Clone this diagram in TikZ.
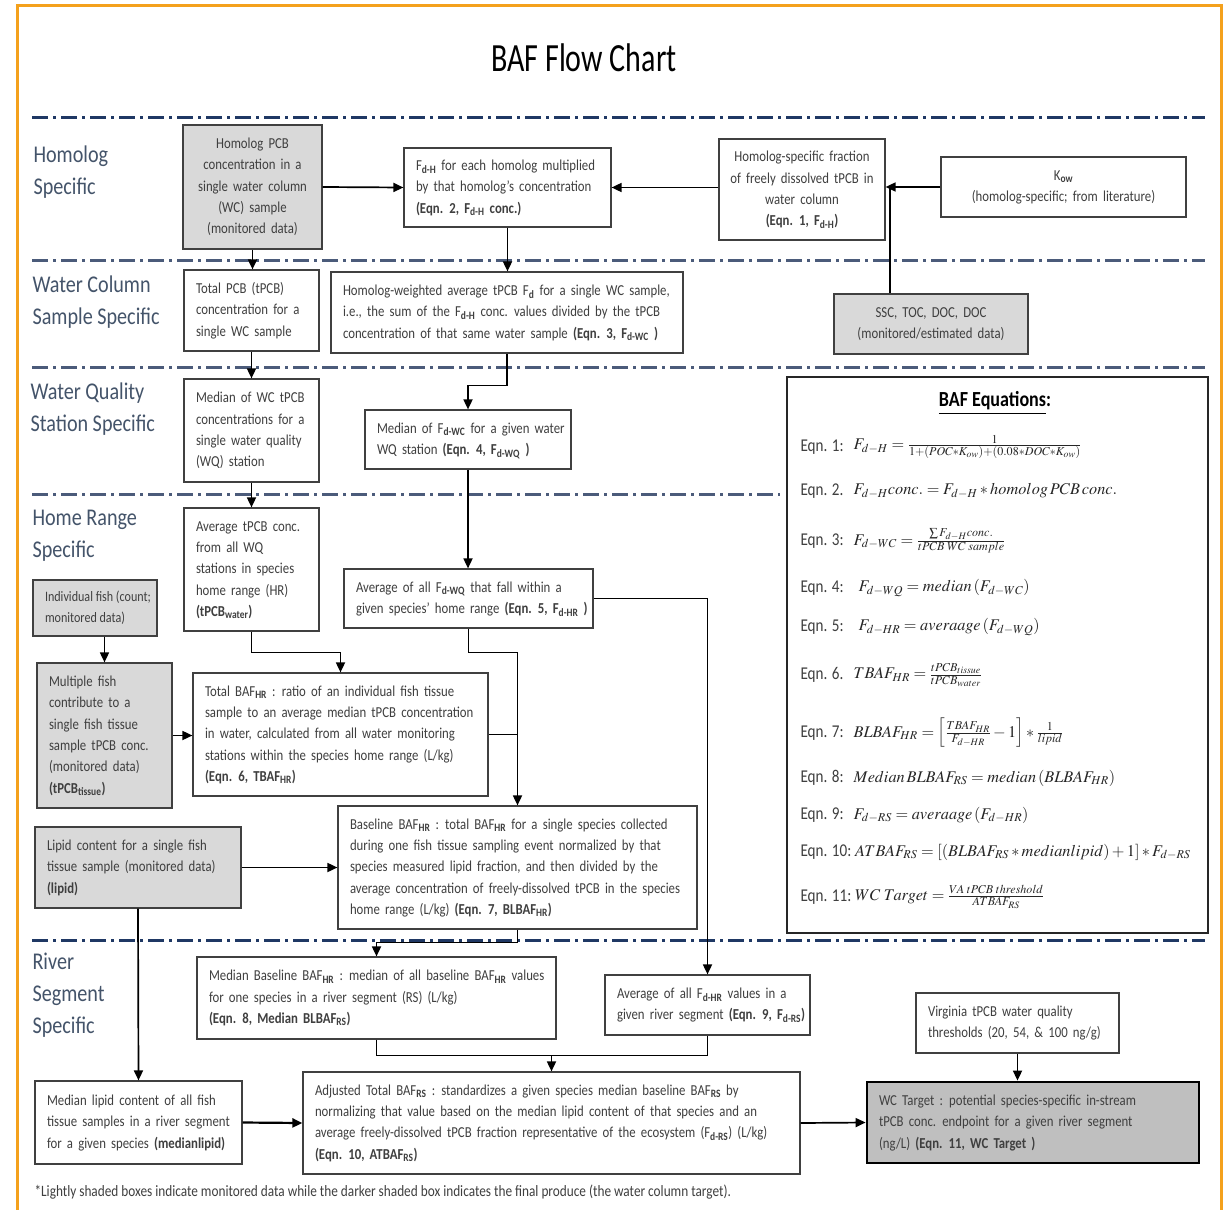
\documentclass[tikz,border=0pt]{standalone}
\usepackage{mathptmx}
\usepackage{fontspec}
\setmainfont{Carlito}[FakeStretch=0.84]
\newfontfamily\boxfam{Carlito}[FakeStretch=0.84,WordSpace=1.8]
\newfontfamily\titlefont{Carlito}[FakeStretch=0.75]
\usetikzlibrary{arrows.meta}
\definecolor{navy}{HTML}{1F3864}
\definecolor{slate}{HTML}{4B5B7A}
\definecolor{lbl}{HTML}{44546A}
\definecolor{lightg}{HTML}{D9D9D9}
\definecolor{darkg}{HTML}{BFBFBF}
\definecolor{orng}{HTML}{F4A11D}
\definecolor{txt}{HTML}{3F3F3F}
\newcommand\bxfont{\boxfam\fontsize{15.2}{21.3}\selectfont}
\newcommand\labfont{\fontsize{24}{32}\selectfont}
\newcommand\eqlfont{\fontsize{18}{20}\selectfont}
\newcommand\eqmfont{\fontsize{16.3}{19}\selectfont}
\newcommand\footfont{\fontsize{15.8}{16}\selectfont}
\newcommand\smallbx{\rmfamily\fontsize{14.4}{21.3}\selectfont}
\newcommand\sbb[1]{\textsubscript{\textbf{#1}}}
\newcommand\mybox[8]{%
  \pgfmathsetmacro\myW{#4-#2}\pgfmathsetmacro\myH{#5-#3}\pgfmathsetmacro\myT{#4-#2-24}%
  \pgfmathsetmacro\myX{(#2+#4)/2}\pgfmathsetmacro\myY{(#3+#5)/2}%
  \node[bx,#6,minimum width=\myW pt,minimum height=\myH pt] (#1) at (\myX,\myY)
    {\makebox[\myT pt][#7]{\begin{tabular}{@{}#7@{}}#8\end{tabular}}};}
\begin{document}
\begin{tikzpicture}[x=1pt,y=-1pt,
  bx/.style={draw=black!75,line width=1.2pt,fill=white,text=txt,font=\bxfont,inner xsep=12pt,inner ysep=0pt},
  lt/.style={fill=lightg},
  dk/.style={fill=darkg,draw=black,line width=2.8pt},
  sec/.style={line width=3pt,dash pattern=on 16pt off 5pt on 3pt off 5pt},
  conn/.style={line width=1.7pt,black},
  arr/.style={conn,-{Triangle[length=10pt,width=9pt]}},
  lab/.style={anchor=west,align=left,text=lbl,font=\labfont},
  eql/.style={anchor=west,font=\eqlfont,text=txt},
  eqm/.style={anchor=west,font=\eqmfont,text=black!85},
]
\useasboundingbox (0,0) rectangle (1225,1209);
\fill[white] (0,0) rectangle (1225,1209);
\draw[orng,line width=3pt] (17,6) rectangle (1221,1240);

\node (title) at (584,58) {\titlefont\fontsize{40}{40}\selectfont BAF Flow Chart};

% section separators
\draw[sec,navy] (32,118) -- (1205,118);
\draw[sec,slate] (32,260) -- (1205,260);
\draw[sec,slate] (32,367) -- (1205,367);
\draw[sec,slate] (32,494) -- (780,494);
\draw[sec,navy] (32,940) -- (1205,940);

% section labels
\node[lab] (lh) at (30,172) {Homolog\\Specific};
\node[lab] (lwc) at (29,302) {Water Column\\Sample Specific};
\node[lab] (lwq) at (27,409) {Water Quality\\Station Specific};
\node[lab] (lhr) at (29,536) {Home Range\\Specific};
\node[lab] (lrs) at (29,995) {River\\Segment\\Specific};

% boxes
\mybox{hpcb}{183}{125}{322}{249}{lt}{c}{Homolog PCB\\concentration in a\\single water column\\(WC) sample\\(monitored data)}
\mybox{fdh}{404}{148}{611}{227}{}{l}{F\sbb{d-H} for each homolog multiplied\\by that homolog’s concentration\\\textbf{(Eqn. 2,  F\sbb{d-H} conc.)}}
\mybox{hsf}{719}{139}{885}{240}{}{c}{Homolog-specific fraction\\of freely dissolved tPCB in\\water column\\\textbf{(Eqn. 1, F\sbb{d-H})}}
\mybox{kow}{941}{157}{1186}{217}{}{c}{K\sbb{ow}\\(homolog-specific; from literature)}
\mybox{ssc}{834}{294}{1028}{354}{lt}{c}{SSC, TOC, DOC, DOC\\(monitored/estimated data)}
\mybox{tpcb}{184}{270}{319}{351}{}{l}{Total PCB (tPCB)\\concentration  for a\\single WC sample}
\mybox{hw}{331}{272}{683}{353}{}{l}{Homolog-weighted  average tPCB F\sbb{d} for a single WC sample,\\i.e., the sum of the F\sbb{d-H} conc. values divided by the tPCB\\concentration of that same water sample \textbf{(Eqn. 3, F\sbb{d-WC} )}}
\mybox{medwc}{184}{379}{319}{482}{}{l}{Median of WC tPCB\\concentrations  for a\\single water quality\\(WQ) station}
\mybox{medfd}{365}{410}{571}{469}{}{l}{Median of F\sbb{d-WC} for a given water\\WQ station \textbf{(Eqn. 4, F\sbb{d-WQ} )}}
\mybox{avgt}{184}{508}{319}{631}{}{l}{Average tPCB conc.\\from all WQ\\stations in species\\home range (HR)\\\textbf{(tPCB\sbb{water})}}
\mybox{avgfd}{344}{569}{593}{628}{}{l}{Average of all F\sbb{d-WQ} that fall within a\\given species’ home range \textbf{(Eqn. 5, F\sbb{d-HR} )}}
\mybox{indf}{33}{580}{157}{636}{lt}{l}{\smallbx Individual fish (count;\\\smallbx monitored data)}
\mybox{multf}{37}{663}{172}{808}{lt}{l}{Multiple fish\\contribute to a\\single fish tissue\\sample tPCB conc.\\(monitored data)\\\textbf{(tPCB\sbb{tissue})}}
\mybox{tbaf}{193}{673}{488}{796}{}{l}{Total BAF\sbb{HR} : ratio of an individual fish tissue\\sample to an average median tPCB concentration\\in water, calculated from all water monitoring\\stations within the species home range (L/kg)\\\textbf{(Eqn. 6, TBAF\sbb{HR})}}
\mybox{lipid}{35}{827}{241}{908}{lt}{l}{Lipid content for a single fish\\tissue sample (monitored data)\\\textbf{(lipid)}}
\mybox{blbaf}{338}{806}{697}{929}{}{l}{Baseline BAF\sbb{HR} : total BAF\sbb{HR} for a single species collected\\during one fish tissue sampling event normalized by that\\species measured lipid fraction, and then divided by the\\average concentration of freely-dissolved tPCB in the species\\home range (L/kg) \textbf{(Eqn. 7, BLBAF\sbb{HR})}}
\mybox{medbl}{197}{957}{556}{1039}{}{l}{Median Baseline BAF\sbb{HR} : median of all baseline BAF\sbb{HR} values\\for one species in a river segment (RS) (L/kg)\\\textbf{(Eqn. 8, Median BLBAF\sbb{RS})}}
\mybox{fdrs}{605}{975}{810}{1035}{}{l}{Average of all F\sbb{d-HR} values in a\\given river segment \textbf{(Eqn. 9, F\sbb{d-RS})}}
\mybox{va}{916}{993}{1119}{1053}{}{l}{Virginia tPCB water quality\\thresholds (20, 54, \& 100 ng/g)}
\mybox{medlip}{35}{1081}{242}{1164}{}{l}{Median lipid content of all fish\\tissue samples in a river segment\\for a given species \textbf{(medianlipid)}}
\mybox{atbaf}{303}{1072}{800}{1174}{}{l}{Adjusted Total BAF\sbb{RS} : standardizes a given species median baseline BAF\sbb{RS} by\\normalizing that value based on the median lipid content of that species and an\\average freely-dissolved tPCB fraction representative of the ecosystem (F\sbb{d-RS}) (L/kg)\\\textbf{(Eqn. 10, ATBAF\sbb{RS})}}
\mybox{wct}{867}{1082}{1199}{1163}{dk}{l}{WC Target : potential species-specific in-stream\\tPCB conc. endpoint for a given river segment\\(ng/L) \textbf{(Eqn. 11, WC Target )}}

% equations panel
\node[draw=black!85,line width=2.5pt,minimum width=421pt,minimum height=556pt] (eqbox) at (997.5,655) {};
\node[font=\fontsize{21.5}{22}\selectfont\bfseries] (eqt) at (995,403) {\underline{BAF Equations}:};
\node[eql] (e1l) at (797,447) {Eqn. 1:};
\node[eqm] (e1) at (850,447) {$F_{d-H} = \frac{1}{1+(POC*K_{ow})+(0.08*DOC*K_{ow})}$};
\node[eql] (e2l) at (797,491) {Eqn. 2.};
\node[eqm] (e2) at (850,491) {$F_{d-H}conc. = F_{d-H} * homolog\,PCB\,conc.$};
\node[eql] (e3l) at (797,541) {Eqn. 3:};
\node[eqm] (e3) at (850,541) {$F_{d-WC} = \frac{\sum F_{d-H}conc.}{tPCB\;WC\;sample}$};
\node[eql] (e4l) at (797,588) {Eqn. 4:};
\node[eqm] (e4) at (855,588) {$F_{d-WQ} = median\,(F_{d-WC})$};
\node[eql] (e5l) at (797,627) {Eqn. 5:};
\node[eqm] (e5) at (855,627) {$F_{d-HR} = averaage\,(F_{d-WQ})$};
\node[eql] (e6l) at (797,675) {Eqn. 6.};
\node[eqm] (e6) at (850,675) {$TBAF_{HR} = \frac{tPCB_{tissue}}{tPCB_{water}}$};
\node[eql] (e7l) at (797,733) {Eqn. 7:};
\node[eqm] (e7) at (850,733) {$BLBAF_{HR} = \left[\frac{TBAF_{HR}}{F_{d-HR}} - 1\right] * \frac{1}{lipid}$};
\node[eql] (e8l) at (797,778) {Eqn. 8:};
\node[eqm] (e8) at (850,778) {$Median\,BLBAF_{RS} = median\,(BLBAF_{HR})$};
\node[eql] (e9l) at (797,815) {Eqn. 9:};
\node[eqm] (e9) at (850,815) {$F_{d-RS} = averaage\,(F_{d-HR})$};
\node[eql] (e10l) at (797,852) {Eqn. 10:};
\node[eqm,inner xsep=0pt] (e10) at (e10l.east) {$ATBAF_{RS} = [(BLBAF_{RS} * medianlipid) + 1] * F_{d-RS}$};
\node[eql] (e11l) at (797,897) {Eqn. 11:};
\node[eqm,inner xsep=0pt] (e11) at (e11l.east) {$WC\;Target = \frac{VA\;tPCB\;threshold}{ATBAF_{RS}}$};

% connectors
\coordinate (j1) at (890,187);
\draw[arr] (hpcb.east) -- (fdh.west);
\draw[arr] (hsf.west |- fdh.east) -- (fdh.east);
\draw[arr] (kow.west) -- (hsf.east |- kow.west);
\draw[conn] (ssc.north -| j1) -- (j1);
\draw[arr] (fdh.south) -- (fdh.south |- hw.north);
\draw[arr] (hpcb.south) -- (hpcb.south |- tpcb.north);
\draw[arr] (tpcb.south) -- (medwc.north);
\draw[arr] (hw.south) -- ++(0,32) -| (medfd.north);
\draw[arr] (medfd.south) -- (medfd.south |- avgfd.north);
\draw[arr] (medwc.south) -- (avgt.north);
\draw[arr] (avgt.south) -- ++(0,21) -| (tbaf.north);
\draw[arr] (avgfd.east) -| (fdrs.north);
\draw[arr] (avgfd.south) -- ++(0,24) -| (blbaf.north);
\draw[conn] (tbaf.east) -- (tbaf.east -| blbaf.north);
\draw[arr] (multf.north |- indf.south) -- (multf.north);
\draw[arr] (multf.east) -- (multf.east -| tbaf.west);
\draw[arr] (lipid.east) -- (lipid.east -| blbaf.west);
\draw[arr] (lipid.south) -- (medlip.north);
\draw[arr] (blbaf.south) -- ++(0,13) -| (medbl.north);
\draw[arr] (medbl.south) -- ++(0,16) -| (atbaf.north);
\draw[conn] (fdrs.south) -- ++(0,20) -| (atbaf.north);
\draw[arr,line width=2.2pt] (medlip.east) -- (atbaf.west);
\draw[arr] (atbaf.east) -- (wct.west);
\draw[arr] (va.south) -- (va.south |- wct.north);

\node[anchor=west,font=\footfont,text=txt] (foot) at (31,1192) {*Lightly shaded boxes indicate monitored data while the darker shaded box indicates the final produce (the water column target).};
\end{tikzpicture}
\end{document}
